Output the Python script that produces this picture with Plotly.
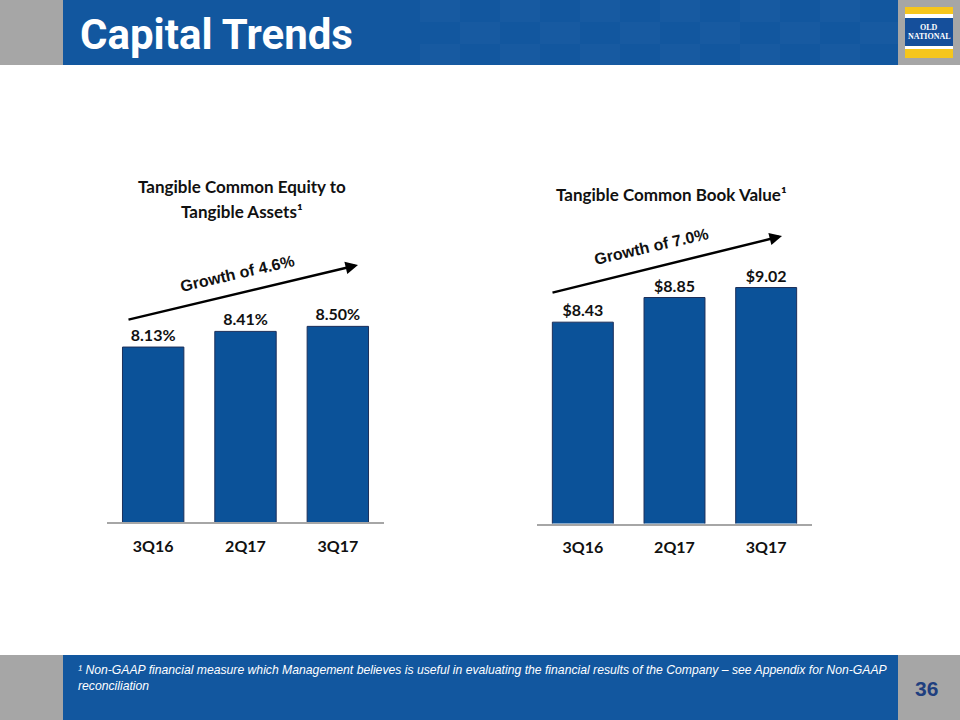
import plotly.graph_objects as go

# ---- data ----
categories = ["3Q16", "2Q17", "3Q17"]
tce_ratio = [8.13, 8.41, 8.50]          # Tangible Common Equity to Tangible Assets (%)
tce_labels = ["8.13%", "8.41%", "8.50%"]
tbv = [8.43, 8.85, 9.02]                # Tangible Common Book Value ($)
tbv_labels = ["$8.43", "$8.85", "$9.02"]
left_title = ["Tangible Common Equity to", "Tangible Assets¹"]
right_title = "Tangible Common Book Value¹"
left_growth = "Growth of 4.6%"
right_growth = "Growth of 7.0%"
page_title = "Capital Trends"
footnote = ("¹ Non-GAAP financial measure which Management believes is useful in evaluating the "
            "financial results of the Company – see Appendix for Non-GAAP<br>reconciliation")
page_number = "36"

W, H = 960, 720
BAR = "#0b5299"
BAR_LINE = "#1c2f5a"
HEAD_BLUE = "#12579f"
GREY = "#a6a6a6"
LABEL_FONT = "Lato"


def px(x):
    return x / W


def py(y):
    return 1 - y / H


fig = go.Figure()

fig.add_trace(go.Bar(
    x=categories, y=tce_ratio, text=tce_labels, textposition="outside",
    textfont=dict(family=LABEL_FONT, size=16, color="#111111", weight="bold"),
    marker=dict(color=BAR, line=dict(color=BAR_LINE, width=1)),
    cliponaxis=False, xaxis="x", yaxis="y", hoverinfo="skip", showlegend=False))

fig.add_trace(go.Bar(
    x=categories, y=tbv, text=tbv_labels, textposition="outside",
    textfont=dict(family=LABEL_FONT, size=16, color="#111111", weight="bold"),
    marker=dict(color=BAR, line=dict(color=BAR_LINE, width=1)),
    cliponaxis=False, xaxis="x2", yaxis="y2", hoverinfo="skip", showlegend=False))

xcommon = dict(showline=True, linecolor=GREY, linewidth=1.5, ticks="", showgrid=False,
               zeroline=False, fixedrange=True, ticklabelstandoff=9,
               tickfont=dict(family=LABEL_FONT, size=16, color="#111111", weight="bold"))
ycommon = dict(visible=False, showgrid=False, zeroline=False, fixedrange=True)

fig.update_layout(
    width=W, height=H, margin=dict(l=0, r=0, t=0, b=0),
    paper_bgcolor="white", plot_bgcolor="rgba(0,0,0,0)",
    bargap=0.335,
    xaxis=dict(domain=[px(107), px(384)], anchor="y", **xcommon),
    yaxis=dict(domain=[py(522), py(230)], range=[5, 10.224], anchor="x", **ycommon),
    xaxis2=dict(domain=[px(537), px(812)], anchor="y2", **xcommon),
    yaxis2=dict(domain=[py(523.5), py(230)], range=[5, 10.0], anchor="x2", **ycommon),
)

shapes = []
# header
shapes.append(dict(type="rect", xref="paper", yref="paper", x0=0, x1=px(63), y0=py(65), y1=1,
                   fillcolor=GREY, line=dict(width=0), layer="below"))
shapes.append(dict(type="rect", xref="paper", yref="paper", x0=px(63), x1=px(898), y0=py(65), y1=1,
                   fillcolor=HEAD_BLUE, line=dict(width=0), layer="below"))
shapes.append(dict(type="rect", xref="paper", yref="paper", x0=px(898), x1=1, y0=py(65), y1=1,
                   fillcolor=GREY, line=dict(width=0), layer="below"))
# subtle checker pattern in header/footer
for (y0, y1) in [(0, 65), (655, 720)]:
    for i, x0 in enumerate(range(420, 898, 40)):
        for j, yy in enumerate(range(y0, y1, 22)):
            if (i + j) % 2 == 0:
                shapes.append(dict(type="rect", xref="paper", yref="paper",
                                   x0=px(x0), x1=px(min(x0 + 40, 898)),
                                   y0=py(min(yy + 22, y1)), y1=py(yy),
                                   fillcolor="rgba(255,255,255,0.025)", line=dict(width=0),
                                   layer="below"))
# logo
logo = [(7, 14, "#f6c61c"), (14, 18, "white"), (18, 46, "#154f9b"), (46, 49, "white"), (49, 58, "#f6c61c")]
for (a, b, c) in logo:
    shapes.append(dict(type="rect", xref="paper", yref="paper", x0=px(905), x1=px(953),
                       y0=py(b), y1=py(a), fillcolor=c, line=dict(width=0)))
# footer
shapes.append(dict(type="rect", xref="paper", yref="paper", x0=0, x1=px(63), y0=0, y1=py(655),
                   fillcolor=GREY, line=dict(width=0), layer="below"))
shapes.append(dict(type="rect", xref="paper", yref="paper", x0=px(63), x1=px(898), y0=0, y1=py(655),
                   fillcolor=HEAD_BLUE, line=dict(width=0), layer="below"))
shapes.append(dict(type="rect", xref="paper", yref="paper", x0=px(898), x1=1, y0=0, y1=py(655),
                   fillcolor=GREY, line=dict(width=0), layer="below"))
fig.update_layout(shapes=shapes)

C = dict(xref="paper", yref="paper", xanchor="center", yanchor="middle", showarrow=False)
ann = []
ann.append(dict(text=page_title, x=px(78), y=py(34), xref="paper", yref="paper",
                xanchor="left", yanchor="middle", showarrow=False,
                font=dict(family="Roboto", size=42, color="white", weight="bold")))
ann.append(dict(text="OLD", x=px(929), y=py(28), **C,
                font=dict(family="Liberation Serif", size=8, color="white", weight="bold")))
ann.append(dict(text="NATIONAL", x=px(929), y=py(36), **C,
                font=dict(family="Liberation Serif", size=8, color="white", weight="bold")))
# chart titles
ann.append(dict(text=left_title[0], x=px(242), y=py(187), **C,
                font=dict(family=LABEL_FONT, size=17, color="#111111", weight="bold")))
ann.append(dict(text=left_title[1], x=px(242), y=py(211), **C,
                font=dict(family=LABEL_FONT, size=17, color="#111111", weight="bold")))
ann.append(dict(text=right_title, x=px(671), y=py(195), **C,
                font=dict(family=LABEL_FONT, size=17, color="#111111", weight="bold")))
# growth arrows
for (hx, hy, tx, ty) in [(358, 265, 127, 320), (782, 236, 551, 293)]:
    ann.append(dict(text="", x=px(hx), y=py(hy), xref="paper", yref="paper",
                    ax=tx - hx, ay=ty - hy, axref="pixel", ayref="pixel",
                    showarrow=True, arrowhead=2, arrowsize=1, arrowwidth=2.5,
                    arrowcolor="black", standoff=0, startstandoff=0))
ann.append(dict(text=left_growth, x=px(237), y=py(273), textangle=-13, **C,
                font=dict(family="Liberation Sans", size=16, color="#111111", weight="bold")))
ann.append(dict(text=right_growth, x=px(651), y=py(246), textangle=-13, **C,
                font=dict(family="Liberation Sans", size=16, color="#111111", weight="bold")))
# footer
ann.append(dict(text=footnote, x=px(76), y=py(661), xref="paper", yref="paper",
                xanchor="left", yanchor="top", align="left", showarrow=False,
                font=dict(family="Liberation Sans", size=12.2, color="white", style="italic")))
ann.append(dict(text=page_number, x=px(926), y=py(688), **C,
                font=dict(family="Liberation Sans", size=21, color="#1f3f7f", weight="bold")))
fig.update_layout(annotations=ann)

fig.write_html("out.html", config={"displayModeBar": False},
               post_script="document.body.style.margin='0';")
